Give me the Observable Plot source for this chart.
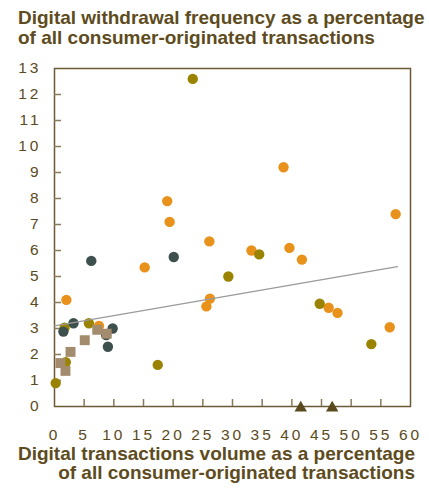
<!DOCTYPE html>
<html><head><meta charset="utf-8">
<script src="https://cdn.jsdelivr.net/npm/d3@7"></script>
<script src="https://cdn.jsdelivr.net/npm/@observablehq/plot@0.6"></script>
<style>
body{margin:0;background:#fff;font-family:"Liberation Sans",Arial,sans-serif;}
#wrap{width:429px;height:497px;position:relative;overflow:hidden;}
.title{padding:8px 0 0 18px;height:40px;font-size:19px;font-weight:bold;line-height:20px;color:#5E4B20;white-space:nowrap;}
.xlabel{position:relative;margin-top:-4.5px;text-align:right;padding-right:14px;font-size:19px;font-weight:bold;line-height:19.5px;color:#5E4B20;white-space:nowrap;}
#chart svg text{letter-spacing:3px;}
</style></head><body>
<div id="wrap">
<div class="title">Digital withdrawal frequency as a percentage<br>of all consumer-originated transactions</div>
<div id="chart"></div>
<div class="xlabel">Digital transactions volume as a percentage<br>of all consumer-originated transactions</div>
</div>
<script>
// Data
const orangeX = [19.0, 19.4, 38.6, 57.5, 26.1, 15.2, 2.0, 26.2, 25.6, 7.5, 33.2, 39.6, 41.7, 46.2, 47.7, 56.5];
const orangeY = [7.9, 7.1, 9.2, 7.4, 6.35, 5.35, 4.1, 4.15, 3.85, 3.1, 6.0, 6.1, 5.65, 3.8, 3.6, 3.05];
const oliveX = [23.3, 0.2, 1.7, 5.8, 1.9, 17.4, 29.3, 34.5, 44.7, 53.4];
const oliveY = [12.6, 0.9, 3.03, 3.2, 1.7, 1.6, 5.0, 5.85, 3.95, 2.4];
const darkX = [6.2, 20.1, 3.2, 1.5, 9.8, 9.0, 8.7];
const darkY = [5.6, 5.75, 3.2, 2.88, 3.0, 2.3, 2.75];
const tanX = [1.0, 1.85, 2.7, 5.1, 7.2, 8.8];
const tanY = [1.67, 1.37, 2.1, 2.55, 2.95, 2.8];
const triX = [41.5, 46.8];
const triY = [0, 0];
const trendX = [0, 57.8];
const trendY = [3.1, 5.38];
const xTickLabels = [0, 5, 10, 15, 20, 25, 30, 35, 40, 45, 50, 55, 60];
const yTickLabels = [0, 1, 2, 3, 4, 5, 6, 7, 8, 9, 10, 11, 12, 13];
const xTickMarks = [5, 10, 15, 20, 25, 30, 35, 40, 45, 50, 55];
const yTickMarks = [1, 2, 3, 4, 5, 6, 7, 8, 9, 10, 11, 12];

const rows = (xs, ys) => xs.map((x, i) => ({x, y: ys[i]}));
const W = 429, H = 400, mL = 54, mR = 19, mT = 20, mB = 42;
const plotW = W - mL - mR, plotH = H - mT - mB;
const tickColor = "#8A795A", frameColor = "#6B5A34";

const chart = Plot.plot({
  width: W, height: H,
  marginLeft: mL, marginRight: mR, marginTop: mT, marginBottom: mB,
  x: {domain: [0, 60], label: null},
  y: {domain: [0, 13], label: null},
  style: {fontFamily: "Liberation Sans, Arial, sans-serif", fontSize: "15.5px", color: "#5C4A22", background: "#fff"},
  marks: [
    Plot.frame({stroke: frameColor, strokeWidth: 1.5}),
    Plot.tickX(xTickMarks, {x: d => d, insetTop: plotH - 7, stroke: tickColor, strokeWidth: 1.5}),
    Plot.tickY(yTickMarks, {y: d => d, insetRight: plotW - 7, stroke: tickColor, strokeWidth: 1.5}),
    Plot.axisX(xTickLabels, {anchor: "bottom", tickSize: 0, tickPadding: 22, label: null}),
    Plot.axisY(yTickLabels, {anchor: "left", tickSize: 0, tickPadding: 13, label: null}),
    Plot.dot(rows(orangeX, orangeY), {x: "x", y: "y", r: 5.2, fill: "#E8921C"}),
    Plot.dot(rows(oliveX, oliveY), {x: "x", y: "y", r: 5.2, fill: "#9A8300"}),
    Plot.dot(rows(darkX, darkY), {x: "x", y: "y", r: 5.2, fill: "#3D504E"}),
    Plot.line(rows(trendX, trendY), {x: "x", y: "y", stroke: "#9A9A9A", strokeWidth: 1.2}),
    Plot.dot(rows(tanX, tanY), {x: "x", y: "y", r: 5.6, symbol: "square", fill: "#A38C6D"}),
    Plot.dot(rows(triX, triY), {x: "x", y: "y", r: 4.6, dy: 1.5, symbol: "triangle", fill: "#5B4A1E"})
  ]
});
document.getElementById("chart").appendChild(chart);
</script>
</body></html>
